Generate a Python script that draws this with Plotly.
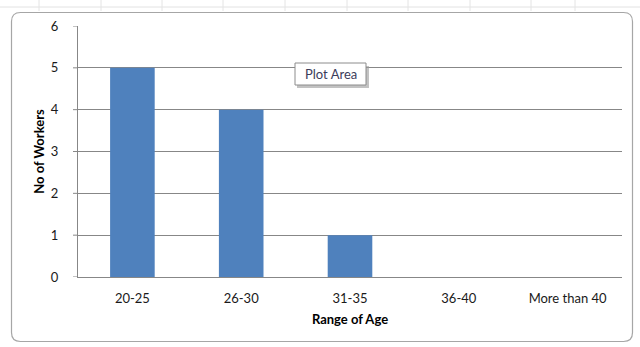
import plotly.graph_objects as go

# Age-band counts
age_ranges = ["20-25", "26-30", "31-35", "36-40", "More than 40"]
workers = [5, 4, 1, 0, 0]
y_ticks = [0, 1, 2, 3, 4, 5, 6]

W, H = 640, 347
PL, PR, PT, PB = 78, 622, 26, 277  # plot area in pixels

BAR = "#4F81BD"
GRID = "#878787"
FONT = "Lato, 'Open Sans', Arial, sans-serif"


def px(x):
    return (x - PL) / (PR - PL)


def py(y):
    return (PB - y) / (PB - PT)


def rounded_rect(x0, y0, x1, y1, r):
    pts = [
        f"M {px(x0 + r)},{py(y0)}",
        f"L {px(x1 - r)},{py(y0)}",
        f"Q {px(x1)},{py(y0)} {px(x1)},{py(y0 + r)}",
        f"L {px(x1)},{py(y1 - r)}",
        f"Q {px(x1)},{py(y1)} {px(x1 - r)},{py(y1)}",
        f"L {px(x0 + r)},{py(y1)}",
        f"Q {px(x0)},{py(y1)} {px(x0)},{py(y1 - r)}",
        f"L {px(x0)},{py(y0 + r)}",
        f"Q {px(x0)},{py(y0)} {px(x0 + r)},{py(y0)} Z",
    ]
    return " ".join(pts)


fig = go.Figure(
    go.Bar(x=age_ranges, y=workers, marker=dict(color=BAR, line=dict(width=0)))
)

shapes = []
# faint worksheet grid above the chart frame
shapes.append(dict(type="line", xref="paper", yref="paper",
                   x0=px(0), x1=px(W), y0=py(7), y1=py(7),
                   line=dict(color="#e2e2e2", width=1), layer="below"))
for gx in [39, 101, 162, 223, 285, 347, 408, 470, 531, 575]:
    shapes.append(dict(type="line", xref="paper", yref="paper",
                       x0=px(gx), x1=px(gx), y0=py(0), y1=py(11),
                       line=dict(color="#e4e4e4", width=1), layer="below"))
# chart frame with rounded corners
shapes.append(dict(type="path", xref="paper", yref="paper",
                   path=rounded_rect(11.5, 12.5, 632.5, 341.5, 9),
                   line=dict(color="#a6a6a6", width=1.2), layer="below"))
# tooltip shadow and box
shapes.append(dict(type="rect", xref="paper", yref="paper",
                   x0=px(297), x1=px(369), y0=py(66), y1=py(88),
                   fillcolor="#9a9a9a", line=dict(width=0), opacity=0.6))
shapes.append(dict(type="rect", xref="paper", yref="paper",
                   x0=px(295), x1=px(366), y0=py(63), y1=py(85),
                   fillcolor="white", line=dict(color="#8c8c8c", width=1)))
# short tick marks left of the value axis
for v in y_ticks:
    shapes.append(dict(type="line", xref="paper", yref="y",
                       x0=px(PL - 5), x1=px(PL), y0=v, y1=v,
                       line=dict(color=GRID, width=1)))

fig.update_layout(
    width=W, height=H,
    margin=dict(l=PL, r=W - PR, t=PT, b=H - PB),
    paper_bgcolor="white", plot_bgcolor="white",
    bargap=0.59,
    showlegend=False,
    font=dict(family=FONT, size=13, color="#000000"),
    shapes=shapes,
    annotations=[dict(
        xref="paper", yref="paper", x=px(330.5), y=py(74),
        text="Plot Area", showarrow=False,
        font=dict(family=FONT, size=13, color="#3c3c5a"),
        xanchor="center", yanchor="middle",
    )],
)

fig.update_xaxes(
    showgrid=False, showline=True, linecolor=GRID, linewidth=1,
    ticks="", tickfont=dict(size=13, color="#1a1a1a"), ticklabelstandoff=9,
    title=dict(text="<b>Range of Age</b>", font=dict(size=13), standoff=10),
)
fig.update_yaxes(
    range=[0, 6], tickvals=y_ticks, showgrid=True, gridcolor=GRID, gridwidth=1,
    showline=True, linecolor=GRID, linewidth=1,
    ticks="", tickfont=dict(size=13, color="#1a1a1a"), ticklabelstandoff=16,
    zeroline=False,
    title=dict(text="<b>No of Workers</b>", font=dict(size=13), standoff=3),
)

fig.write_html("out.html")
